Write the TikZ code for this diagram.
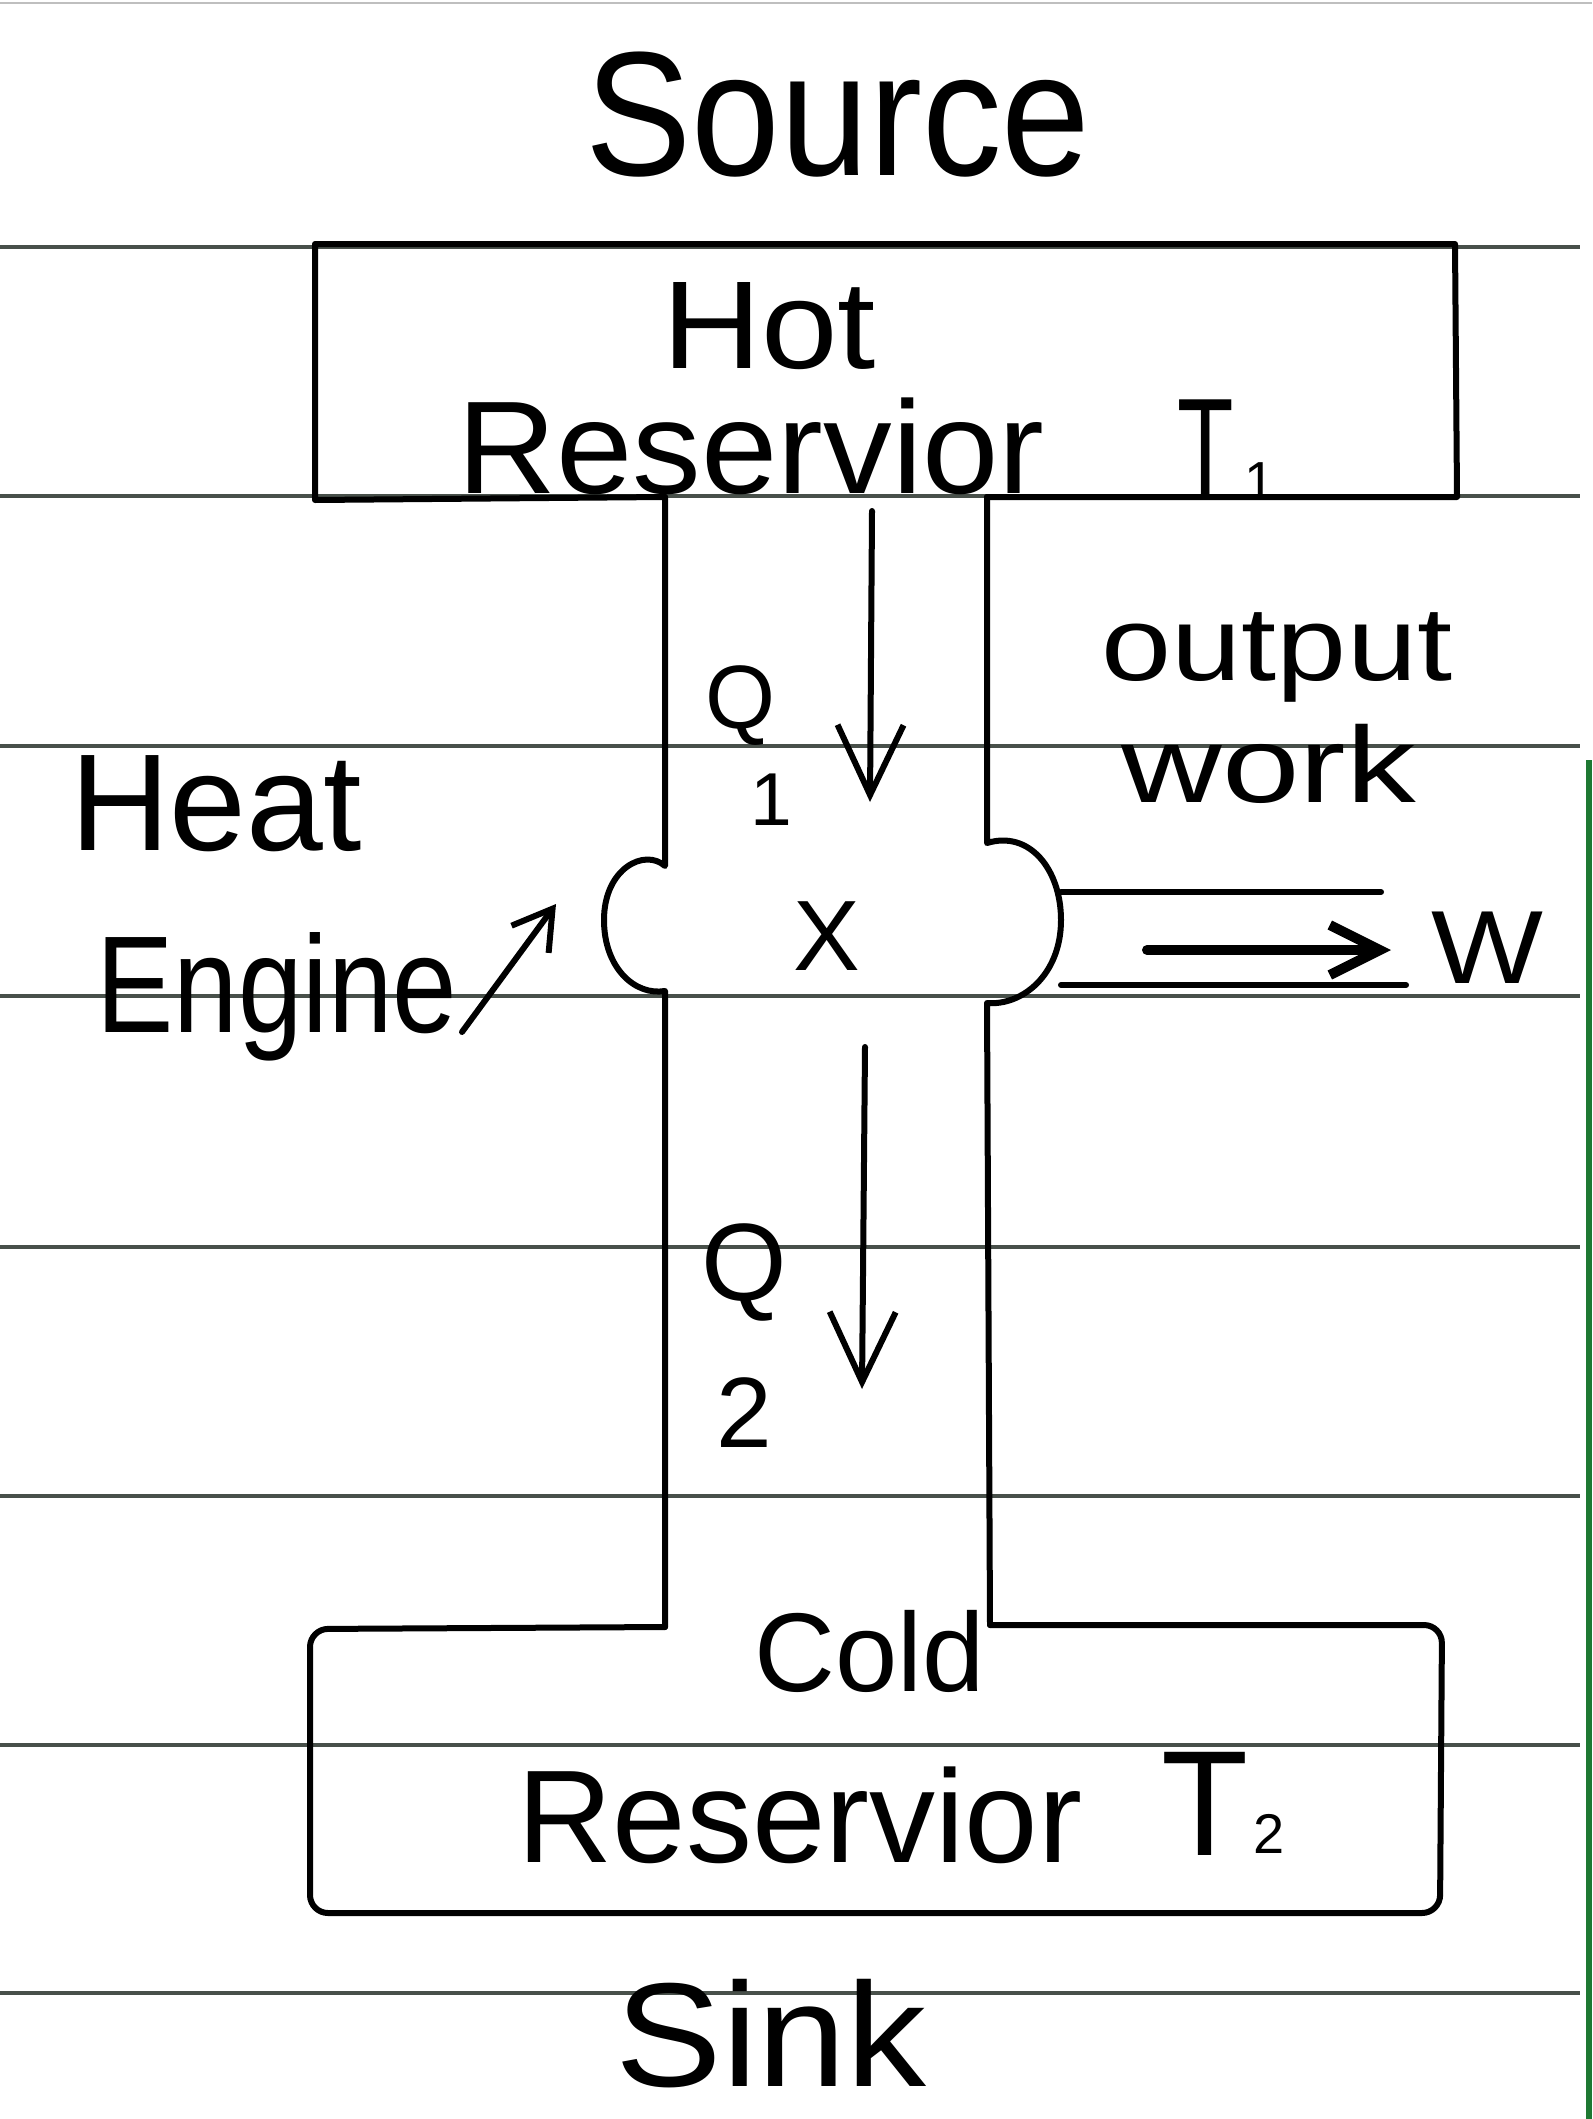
\documentclass[tikz,border=0pt]{standalone}
\usepackage{fontspec}
\setmainfont{Liberation Sans}
\usetikzlibrary{arrows.meta}
\definecolor{rulecol}{RGB}{72,80,74}
\definecolor{edgegreen}{RGB}{30,120,50}
\newcommand\fsz[1]{\fontsize{#1}{#1}\selectfont}
\tikzset{
  ink/.style={line width=6pt, black, line cap=round, line join=round},
  ruleline/.style={line width=4pt, rulecol},
  lbl/.style={inner sep=0pt, anchor=base, text=black},
  vee/.style={-{Straight Barb[length=70pt,width=66pt]}},
}
\begin{document}
\begin{tikzpicture}[x=1pt,y=-1pt]
  \fill[white] (0,0) rectangle (1592,2119);
  \useasboundingbox (0,0) rectangle (1592,2119);
  % notebook rules
  \draw[line width=2pt, black!25] (0,3) -- (1592,3);
  \foreach \yy in {247,496,746,996,1247,1496,1745,1993}
    \draw[ruleline] (0,\yy) -- (1580,\yy);
  \draw[line width=6pt, edgegreen] (1589,760) -- (1589,2119);

  % coordinates
  \coordinate (hl) at (665,497);
  \coordinate (hr) at (987,497);
  \coordinate (lb1) at (665,866);
  \coordinate (lb2) at (665,991);
  \coordinate (rb1) at (987,843);
  \coordinate (rb2) at (987,1003);
  \coordinate (cl) at (665,1627);
  \coordinate (cr) at (990,1625);

  % hot reservoir box
  \draw[ink] (hl) -- (315,500) -- (315,244) -- (1455,244) -- (1457,497) -- (hr);
  % engine pipe with bulges
  \draw[ink] (hl) -- (lb1) .. controls (645,848) and (604,868) .. (604,920)
     .. controls (604,968) and (635,996) .. (lb2) -- (cl);
  \draw[ink] (hr) -- (rb1) .. controls (1030,830) and (1061,870) .. (1061,920)
     .. controls (1061,975) and (1022,1006) .. (rb2) -- (cr);
  % cold reservoir box
  \draw[ink, rounded corners=18pt] (cl) -- (310,1629) -- (310,1913) -- (1440,1913) -- (1442,1625) -- (cr);

  % labels
  \node[lbl, xscale=0.9] (source) at (838,176) {\fsz{177}Source};
  \node[lbl, xscale=1.1] (hot) at (769,368) {\fsz{125}Hot};
  \node[lbl, xscale=1.04] (res1) at (751,493) {\fsz{132}Reservior};
  \node[lbl, xscale=0.65] (t1) at (1206,497) {\fsz{142}T};
  \node[lbl] (t1s) at (1260,500) {\fsz{55}1};
  \node[lbl, xscale=1.2] (output) at (1277,680) {\fsz{105}output};
  \node[lbl, xscale=1.29] (work) at (1269,802) {\fsz{108}work};
  \node[lbl] (heat) at (216,850) {\fsz{138}Heat};
  \node[lbl, xscale=0.84] (engine) at (277,1032) {\fsz{138}Engine};
  \node[lbl] (x) at (827,970) {\fsz{100}X};
  \node[lbl] (q1) at (740,728) {\fsz{90}Q};
  \node[lbl] (q1s) at (771,825) {\fsz{75}1};
  \node[lbl] (q2) at (744,1300) {\fsz{110}Q};
  \node[lbl] (q2s) at (744,1447) {\fsz{100}2};
  \node[lbl, xscale=1.14] (w) at (1487,983) {\fsz{104}W};
  \node[lbl] (cold) at (870,1691) {\fsz{112}Cold};
  \node[lbl] (res2) at (800,1862) {\fsz{132}Reservior};
  \node[lbl, xscale=0.95] (t2) at (1205,1855) {\fsz{150}T};
  \node[lbl] (t2s) at (1269,1853) {\fsz{56}2};
  \node[lbl, xscale=1.08] (sink) at (771,2086) {\fsz{148}Sink};

  % heat flow arrows
  \coordinate (q1a) at (872,511);
  \coordinate (q1b) at (870,802);
  \draw[ink, vee] (q1a) -- (q1b);
  \coordinate (q2a) at (865,1047);
  \coordinate (q2b) at (862,1389);
  \draw[ink, vee] (q2a) -- (q2b);

  % engine pointer
  \coordinate (ea) at (462,1032);
  \coordinate (eb) at (556,904);
  \draw[ink, -{Straight Barb[length=38pt,width=46pt]}] (ea) -- (eb);

  % work output
  \coordinate (wu1) at (1061,892);
  \coordinate (wu2) at (1381,892);
  \coordinate (wl1) at (1061,985);
  \coordinate (wl2) at (1406,985);
  \draw[ink] (wu1) -- (wu2);
  \draw[ink] (wl1) -- (wl2);
  \coordinate (wa) at (1147,950);
  \coordinate (wb) at (1391,950);
  \draw[ink, line width=10pt, -{Straight Barb[length=50pt,width=50pt]}] (wa) -- (wb);
\end{tikzpicture}
\end{document}
